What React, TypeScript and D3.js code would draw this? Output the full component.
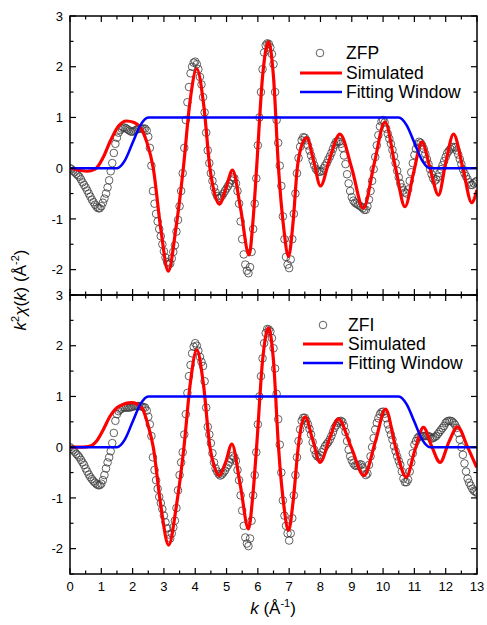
import React from 'react';
import * as d3 from 'd3';

// k grid of the measured points (step 0.05 Å^-1, 0 .. 13)
const kGrid: number[] = d3.range(0, 261).map((i) => +(i * 0.05).toFixed(2));

// Experimental ZFP (top panel), values at kGrid
const zfpValues = [
  0.00, -0.02, -0.05, -0.08, -0.11, -0.14, -0.17, -0.22, -0.28, -0.33,
  -0.38, -0.44, -0.50, -0.56, -0.62, -0.67, -0.72, -0.76, -0.79, -0.79,
  -0.75, -0.68, -0.60, -0.50, -0.38, -0.24, -0.06, 0.10, 0.30, 0.48,
  0.60, 0.70, 0.75, 0.78, 0.80, 0.80, 0.78, 0.76, 0.74, 0.72,
  0.72, 0.73, 0.75, 0.77, 0.78, 0.78, 0.78, 0.78, 0.78, 0.74,
  0.62, 0.40, 0.05, -0.45, -0.70, -0.90, -1.05, -1.20, -1.34, -1.50,
  -1.64, -1.76, -1.85, -1.90, -1.88, -1.78, -1.65, -1.52, -1.25, -1.02,
  -0.75, -0.45, -0.10, 0.40, 0.95, 1.30, 1.60, 1.87, 2.00, 2.08,
  2.10, 2.05, 1.95, 1.80, 1.65, 1.40, 1.10, 0.70, 0.35, 0.10,
  -0.10, -0.25, -0.38, -0.48, -0.55, -0.59, -0.58, -0.55, -0.50, -0.45,
  -0.40, -0.35, -0.30, -0.24, -0.18, -0.20, -0.30, -0.45, -0.70, -1.05,
  -1.40, -1.70, -1.90, -2.02, -2.07, -1.95, -1.65, -1.20, -0.70, -0.20,
  0.45, 1.00, 1.50, 1.95, 2.28, 2.42, 2.46, 2.45, 2.38, 2.25,
  2.05, 1.50, 0.95, 0.50, 0.05, -0.35, -0.95, -1.40, -1.75, -1.90,
  -1.97, -1.80, -1.40, -0.90, -0.50, -0.10, 0.20, 0.42, 0.55, 0.61,
  0.60, 0.55, 0.45, 0.35, 0.25, 0.15, 0.06, -0.01, -0.05, -0.07,
  -0.07, -0.05, 0.00, 0.05, 0.10, 0.17, 0.23, 0.30, 0.38, 0.46,
  0.52, 0.53, 0.52, 0.48, 0.40, 0.25, 0.08, -0.12, -0.30, -0.45,
  -0.57, -0.64, -0.68, -0.70, -0.72, -0.74, -0.76, -0.79, -0.82, -0.82,
  -0.75, -0.62, -0.45, -0.25, -0.02, 0.22, 0.45, 0.65, 0.82, 0.92,
  0.95, 0.90, 0.78, 0.68, 0.58, 0.48, 0.36, 0.24, 0.10, -0.05,
  -0.18, -0.30, -0.38, -0.44, -0.48, -0.50, -0.42, -0.25, -0.08, 0.10,
  0.26, 0.38, 0.47, 0.52, 0.50, 0.45, 0.38, 0.28, 0.18, 0.08,
  -0.02, -0.12, -0.20, -0.25, -0.22, -0.17, -0.10, -0.02, 0.06, 0.14,
  0.22, 0.30, 0.34, 0.38, 0.41, 0.42, 0.41, 0.35, 0.27, 0.18,
  0.08, -0.02, -0.10, -0.16, -0.22, -0.28, -0.33, -0.33, -0.30, -0.27,
  -0.25,
];

// Experimental ZFI (bottom panel), values at kGrid
const zfiValues = [
  0.00, -0.03, -0.06, -0.09, -0.13, -0.16, -0.20, -0.25, -0.30, -0.35,
  -0.42, -0.48, -0.54, -0.59, -0.63, -0.67, -0.70, -0.73, -0.75, -0.75,
  -0.72, -0.65, -0.55, -0.42, -0.30, -0.20, -0.08, 0.08, 0.28, 0.52,
  0.65, 0.71, 0.74, 0.76, 0.78, 0.78, 0.78, 0.78, 0.78, 0.79,
  0.80, 0.81, 0.81, 0.81, 0.81, 0.81, 0.80, 0.79, 0.78, 0.72,
  0.60, 0.45, 0.22, -0.20, -0.45, -0.65, -0.82, -0.98, -1.10, -1.22,
  -1.35, -1.48, -1.60, -1.72, -1.80, -1.70, -1.58, -1.45, -1.20, -0.85,
  -0.55, -0.30, -0.10, 0.25, 0.65, 1.07, 1.40, 1.62, 1.85, 1.98,
  2.05, 2.00, 1.90, 1.78, 1.68, 1.60, 1.30, 0.78, 0.40, 0.25,
  0.08, -0.12, -0.30, -0.42, -0.48, -0.53, -0.56, -0.54, -0.50, -0.46,
  -0.40, -0.35, -0.30, -0.24, -0.17, -0.20, -0.27, -0.45, -0.65, -0.95,
  -1.25, -1.55, -1.78, -1.90, -1.95, -1.80, -1.45, -0.95, -0.55, -0.10,
  0.45, 1.00, 1.40, 1.75, 2.05, 2.25, 2.33, 2.32, 2.28, 2.15,
  1.95, 1.55, 1.05, 0.55, 0.05, -0.50, -1.05, -1.35, -1.55, -1.70,
  -1.84, -1.70, -1.40, -0.95, -0.55, -0.20, 0.12, 0.35, 0.52, 0.58,
  0.58, 0.52, 0.45, 0.36, 0.25, 0.10, -0.05, -0.14, -0.18, -0.20,
  -0.16, -0.10, -0.04, 0.02, 0.06, 0.10, 0.15, 0.22, 0.30, 0.38,
  0.43, 0.48, 0.51, 0.52, 0.50, 0.42, 0.30, 0.12, -0.05, -0.18,
  -0.26, -0.32, -0.36, -0.37, -0.36, -0.34, -0.34, -0.40, -0.48, -0.55,
  -0.52, -0.35, -0.18, 0.00, 0.18, 0.35, 0.48, 0.57, 0.65, 0.69,
  0.70, 0.66, 0.57, 0.45, 0.35, 0.25, 0.15, 0.02, -0.08, -0.18,
  -0.27, -0.35, -0.48, -0.62, -0.69, -0.69, -0.64, -0.48, -0.30, -0.12,
  0.05, 0.12, 0.18, 0.21, 0.22, 0.22, 0.22, 0.22, 0.22, 0.22,
  0.20, 0.17, 0.18, 0.20, 0.22, 0.26, 0.30, 0.34, 0.38, 0.42,
  0.48, 0.51, 0.52, 0.52, 0.51, 0.48, 0.44, 0.38, 0.28, 0.15,
  0.00, -0.15, -0.32, -0.48, -0.62, -0.70, -0.76, -0.82, -0.86, -0.88,
  -0.90,
];

// Simulated curves: [k, value] knots
const simTop: [number, number][] = [
  [0, 0], [0.3, -0.04], [0.55, -0.06], [0.8, -0.02], [1.05, 0.2], [1.3, 0.55], [1.55, 0.83],
  [1.8, 0.93], [2.05, 0.9], [2.25, 0.8], [2.45, 0.52], [2.66, 0], [2.9, -1.2], [3.14, -2.03],
  [3.38, -1.2], [3.62, 0], [3.83, 1.3], [4.05, 1.96], [4.27, 1.25], [4.47, 0], [4.62, -0.5],
  [4.77, -0.71], [4.98, -0.4], [5.19, -0.04], [5.45, -0.8], [5.72, -1.71], [5.85, -1.0],
  [5.96, 0], [6.15, 1.8], [6.34, 2.49], [6.5, 1.8], [6.66, 0], [6.83, -1.2], [6.98, -1.74],
  [7.12, -1.1], [7.26, 0], [7.4, 0.45], [7.56, 0.6], [7.78, 0.15], [8.0, -0.35], [8.3, 0.2],
  [8.62, 0.67], [9.0, 0], [9.37, -0.79], [9.72, 0.1], [10.06, 0.91], [10.4, 0], [10.7, -0.76],
  [10.97, -0.1], [11.24, 0.52], [11.5, 0], [11.77, -0.53], [12.0, 0.1], [12.25, 0.67],
  [12.55, 0], [12.83, -0.68], [13, -0.43],
];

const simBottom: [number, number][] = [
  [0, 0], [0.4, 0], [0.65, 0.02], [0.85, 0.12], [1.05, 0.33], [1.28, 0.61], [1.55, 0.8],
  [1.97, 0.88], [2.29, 0.78], [2.5, 0.42], [2.66, 0], [2.9, -1.15], [3.15, -1.93], [3.4, -1.15],
  [3.64, 0], [3.84, 1.25], [4.05, 1.92], [4.26, 1.25], [4.47, 0], [4.62, -0.4], [4.77, -0.56],
  [4.97, -0.3], [5.17, 0.06], [5.44, -0.75], [5.7, -1.61], [5.84, -0.95], [5.96, 0],
  [6.15, 1.7], [6.34, 2.35], [6.5, 1.7], [6.66, 0], [6.83, -1.15], [6.98, -1.64], [7.13, -1.05],
  [7.29, 0], [7.4, 0.45], [7.51, 0.6], [7.75, 0.15], [7.99, -0.3], [8.28, 0.15], [8.57, 0.56],
  [8.98, 0], [9.39, -0.56], [9.75, 0.1], [10.08, 0.75], [10.4, 0], [10.74, -0.59],
  [11.02, -0.05], [11.29, 0.39], [11.55, 0.02], [11.82, -0.3], [12.1, 0.1], [12.38, 0.4],
  [12.7, 0], [12.99, -0.4],
];

// Fitting window knots
const windowKnots: [number, number][] = [
  [0, 0], [1.5, 0], [1.75, 0.15], [2.0, 0.5], [2.25, 0.85], [2.5, 1], [10.5, 1],
  [10.75, 0.85], [11.0, 0.5], [11.25, 0.15], [11.5, 0], [13, 0],
];

const xTickLabels = ['0', '1', '2', '3', '4', '5', '6', '7', '8', '9', '10', '11', '12', '13'];
const yTickLabels = ['-2', '-1', '0', '1', '2', '3'];

const FONT = "Arial, 'Liberation Sans', sans-serif";
const W = 487;
const H = 625;
const LEFT = 70;
const RIGHT = 477;

const x = d3.scaleLinear().domain([0, 13]).range([LEFT, RIGHT]);

type PanelProps = {
  top: number;
  bottom: number;
  exp: number[];
  sim: [number, number][];
  name: string;
  legend: { cx: number; y0: number; y1: number; y2: number; lx1: number; lx2: number; tx: number };
  showX: boolean;
  id: string;
};

function Panel({ top, bottom, exp, sim, name, legend, showX, id }: PanelProps) {
  const y = d3.scaleLinear().domain([-2.5, 3]).range([bottom, top]);
  const line = d3
    .line<[number, number]>()
    .x((d) => x(d[0]))
    .y((d) => y(d[1]))
    .curve(d3.curveMonotoneX);
  const xt = d3.range(0, 27).map((i) => i * 0.5);
  const yt = d3.range(0, 12).map((i) => -2.5 + i * 0.5);
  const isInt = (v: number) => Math.abs(v - Math.round(v)) < 1e-6;
  return (
    <g>
      <defs>
        <clipPath id={id}>
          <rect x={LEFT} y={top} width={RIGHT - LEFT} height={bottom - top} />
        </clipPath>
      </defs>
      <g clipPath={`url(#${id})`}>
        {exp.map((v, i) => (
          <circle key={i} cx={x(kGrid[i])} cy={y(v)} r={3.8} fill="none" stroke="#3a3a3a" strokeWidth={0.8} />
        ))}
        <path d={line(sim) || ''} fill="none" stroke="#ff0000" strokeWidth={3.2} />
        <path d={line(windowKnots) || ''} fill="none" stroke="#0000ff" strokeWidth={2.6} />
      </g>
      {xt.map((k) => {
        const len = isInt(k) ? 6 : 3.5;
        return (
          <g key={'x' + k}>
            <line x1={x(k)} x2={x(k)} y1={bottom} y2={bottom - len} stroke="#000" strokeWidth={1.2} />
            <line x1={x(k)} x2={x(k)} y1={top} y2={top + len} stroke="#000" strokeWidth={1.2} />
          </g>
        );
      })}
      {yt.map((v) => {
        const len = isInt(v) ? 6 : 3.5;
        return (
          <g key={'y' + v}>
            <line x1={LEFT} x2={LEFT + len} y1={y(v)} y2={y(v)} stroke="#000" strokeWidth={1.2} />
            <line x1={RIGHT} x2={RIGHT - len} y1={y(v)} y2={y(v)} stroke="#000" strokeWidth={1.2} />
          </g>
        );
      })}
      <rect x={LEFT} y={top} width={RIGHT - LEFT} height={bottom - top} fill="none" stroke="#000" strokeWidth={1.5} />
      {yTickLabels.map((t) => (
        <text key={'yl' + t} x={63} y={y(+t)} dy="0.36em" textAnchor="end" fontSize={13} fontFamily={FONT} fill="#000">
          {t}
        </text>
      ))}
      {showX &&
        xTickLabels.map((t) => (
          <text key={'xl' + t} x={x(+t)} y={591} textAnchor="middle" fontSize={13} fontFamily={FONT} fill="#000">
            {t}
          </text>
        ))}
      <circle cx={legend.cx} cy={legend.y0} r={3.8} fill="none" stroke="#3a3a3a" strokeWidth={0.8} />
      <text x={legend.tx} y={legend.y0} dy="0.36em" fontSize={17.5} fontFamily={FONT} fill="#000">{name}</text>
      <line x1={legend.lx1} x2={legend.lx2} y1={legend.y1} y2={legend.y1} stroke="#ff0000" strokeWidth={3.2} />
      <text x={legend.tx} y={legend.y1} dy="0.36em" fontSize={17.5} fontFamily={FONT} fill="#000">Simulated</text>
      <line x1={legend.lx1} x2={legend.lx2} y1={legend.y2} y2={legend.y2} stroke="#0000ff" strokeWidth={2.6} />
      <text x={legend.tx} y={legend.y2} dy="0.36em" fontSize={17.5} fontFamily={FONT} fill="#000">Fitting Window</text>
    </g>
  );
}

export default function App() {
  return (
    <svg width={W} height={H} style={{ position: 'absolute', left: 0, top: 0, background: '#fff' }}>
      <rect x={0} y={0} width={W} height={H} fill="#fff" />
      <Panel
        id="clipTop"
        top={16}
        bottom={295}
        exp={zfpValues}
        sim={simTop}
        name="ZFP"
        legend={{ cx: 320, y0: 53, y1: 73, y2: 92, lx1: 300, lx2: 342, tx: 346 }}
        showX={false}
      />
      <Panel
        id="clipBottom"
        top={295}
        bottom={574}
        exp={zfiValues}
        sim={simBottom}
        name="ZFI"
        legend={{ cx: 323, y0: 325, y1: 344, y2: 363, lx1: 303, lx2: 343, tx: 348 }}
        showX={true}
      />
      <text x={273} y={614} textAnchor="middle" fontSize={17} fontFamily={FONT} fill="#000">
        <tspan fontStyle="italic">k</tspan>
        <tspan> (Å</tspan>
        <tspan dy={-7} fontSize={11}>-1</tspan>
        <tspan dy={7}>)</tspan>
      </text>
      <text transform="translate(26,290) rotate(-90)" textAnchor="middle" fontSize={17} fontFamily={FONT} fill="#000">
        <tspan fontStyle="italic">k</tspan>
        <tspan dy={-7} fontSize={11}>2</tspan>
        <tspan dy={7} fontStyle="italic">χ</tspan>
        <tspan>(</tspan>
        <tspan fontStyle="italic">k</tspan>
        <tspan>) (Å</tspan>
        <tspan dy={-7} fontSize={11}>-2</tspan>
        <tspan dy={7}>)</tspan>
      </text>
    </svg>
  );
}
